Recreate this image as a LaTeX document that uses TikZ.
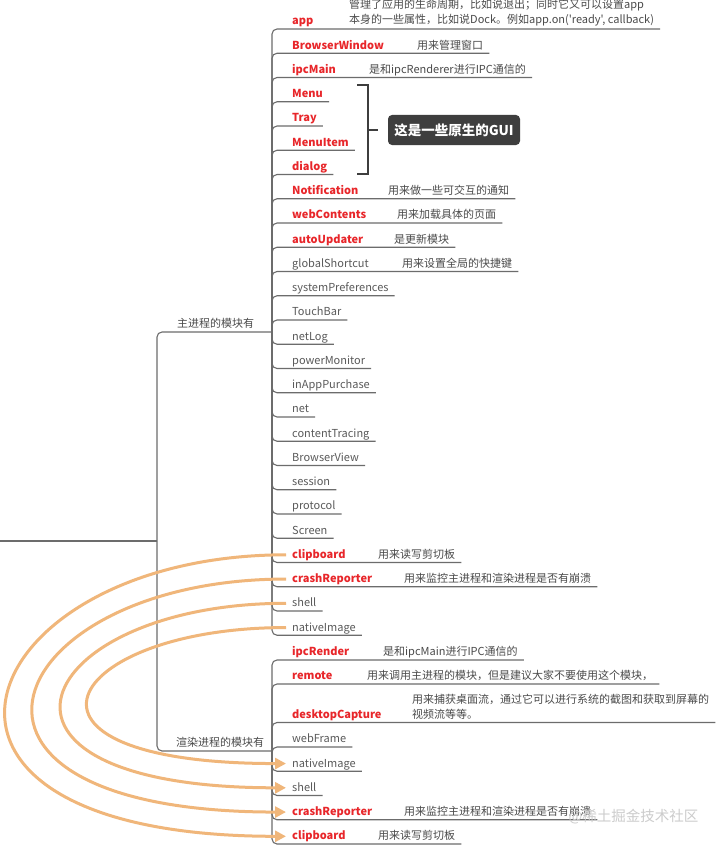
\documentclass[tikz,border=0pt]{standalone}
\usepackage{fontspec}
\setmainfont{Noto Sans CJK SC}[Ligatures=TeXOff]
\usetikzlibrary{arrows.meta}

\definecolor{topicred}{HTML}{E8262A}
\definecolor{topicgray}{HTML}{5A5A5A}
\definecolor{notetext}{HTML}{4A4A4A}
\definecolor{linegray}{HTML}{6C6C6C}
\definecolor{flowtan}{HTML}{F0B67A}
\definecolor{guidark}{HTML}{3E3E3E}

\tikzset{
  topic/.style={anchor=south west, inner xsep=6pt, inner ysep=3pt, text height=8pt, text depth=1pt, font=\fontsize{11}{13}\selectfont},
  redtopic/.style={topic, text=topicred, font=\fontsize{11}{13}\selectfont\bfseries},
  graytopic/.style={topic, text=topicgray},
  note/.style={topic, text=notetext},
  notetwo/.style={anchor=south west, inner xsep=6pt, inner ysep=3pt, align=left, text=notetext, font=\fontsize{11}{15}\selectfont},
  link/.style={draw=linegray, line width=1.1pt, rounded corners=5pt},
  flow/.style={draw=flowtan, line width=3pt, -{Triangle[length=11pt,width=11pt]}},
  bracket/.style={draw=guidark, line width=2pt},
  guibox/.style={fill=guidark, text=white, rounded corners=4pt, minimum width=132pt, minimum height=30pt, inner sep=0pt, font=\fontsize{13.5}{15}\selectfont\bfseries},
}

\begin{document}
\begin{tikzpicture}[x=1pt, y=-1pt]
    \path[fill=white, use as bounding box] (0,0) rectangle (722,848);

    \coordinate (root) at (0,541);
    \coordinate (roothub) at (157,541);
    \coordinate (mainhub) at (272,332);
    \coordinate (renderhub) at (272,751);

    \draw[link] (root) -- (roothub);
    \draw[link] (roothub) |- (mainhub);
    \draw[link] (roothub) |- (renderhub);
    \node[note] (mainproc) at (171,332) {主进程的模块有};
    \node[note] (renderproc) at (170,751) {渲染进程的模块有};

    % main process
    \node[redtopic] (app) at (286,29) {app};
    \node[notetwo] (appnote) at (343,29) {管理了应用的生命周期，比如说退出；同时它又可以设置app\\本身的一些属性，比如说Dock。例如app.on('ready', callback)};
    \draw[link] (mainhub) |- (appnote.south east);

    \node[redtopic] (browserwin) at (286,53.25) {BrowserWindow};
    \node[note] (browserwinnote) at (411,53.25) {用来管理窗口};
    \draw[link] (mainhub) |- (browserwinnote.south east);

    \node[redtopic] (ipcmain) at (286,77.5) {ipcMain};
    \node[note] (ipcmainnote) at (363,77.5) {是和ipcRenderer进行IPC通信的};
    \draw[link] (mainhub) |- (ipcmainnote.south east);

    \node[redtopic] (menu) at (286,101.75) {Menu};
    \draw[link] (mainhub) |- (menu.south east);
    \node[redtopic] (tray) at (286,126) {Tray};
    \draw[link] (mainhub) |- (tray.south east);
    \node[redtopic] (menuitem) at (286,150.25) {MenuItem};
    \draw[link] (mainhub) |- (menuitem.south east);
    \node[redtopic] (dialog) at (286,174.5) {dialog};
    \draw[link] (mainhub) |- (dialog.south east);

    \coordinate (brtop) at (357,85);
    \coordinate (brbot) at (357,174);
    \coordinate (brmid) at (368,130);
    \draw[bracket] (brtop) -| (brmid) |- (brbot);
    \node[guibox] (gui) at (454,130) {这是一些原生的GUI};
    \draw[bracket, shorten >=10pt] (brmid) -- (gui.west);

    \node[redtopic] (notification) at (286,198.75) {Notification};
    \node[note] (notificationnote) at (382,198.75) {用来做一些可交互的通知};
    \draw[link] (mainhub) |- (notificationnote.south east);

    \node[redtopic] (webcontents) at (286,223) {webContents};
    \node[note] (webcontentsnote) at (391,223) {用来加载具体的页面};
    \draw[link] (mainhub) |- (webcontentsnote.south east);

    \node[redtopic] (autoupdater) at (286,247.25) {autoUpdater};
    \node[note] (autoupdaternote) at (388,247.25) {是更新模块};
    \draw[link] (mainhub) |- (autoupdaternote.south east);

    \node[graytopic] (shortcut) at (286,271.5) {globalShortcut};
    \node[note] (shortcutnote) at (396,271.5) {用来设置全局的快捷键};
    \draw[link] (mainhub) |- (shortcutnote.south east);

    \node[graytopic] (syspref) at (286,295.75) {systemPreferences};
    \draw[link] (mainhub) |- (syspref.south east);
    \node[graytopic] (touchbar) at (286,320) {TouchBar};
    \draw[link] (mainhub) |- (touchbar.south east);
    \node[graytopic] (netlog) at (286,344.25) {netLog};
    \draw[link] (mainhub) |- (netlog.south east);
    \node[graytopic] (powermon) at (286,368.5) {powerMonitor};
    \draw[link] (mainhub) |- (powermon.south east);
    \node[graytopic] (inapp) at (286,392.75) {inAppPurchase};
    \draw[link] (mainhub) |- (inapp.south east);
    \node[graytopic] (net) at (286,417) {net};
    \draw[link] (mainhub) |- (net.south east);
    \node[graytopic] (tracing) at (286,441.25) {contentTracing};
    \draw[link] (mainhub) |- (tracing.south east);
    \node[graytopic] (browserview) at (286,465.5) {BrowserView};
    \draw[link] (mainhub) |- (browserview.south east);
    \node[graytopic] (session) at (286,489.75) {session};
    \draw[link] (mainhub) |- (session.south east);
    \node[graytopic] (protocol) at (286,514) {protocol};
    \draw[link] (mainhub) |- (protocol.south east);
    \node[graytopic] (screen) at (286,538.25) {Screen};
    \draw[link] (mainhub) |- (screen.south east);

    \node[redtopic] (mclip) at (286,562.5) {clipboard};
    \node[note] (mclipnote) at (372,562.5) {用来读写剪切板};
    \draw[link] (mainhub) |- (mclipnote.south east);
    \node[redtopic] (mcrash) at (286,586.75) {crashReporter};
    \node[note] (mcrashnote) at (398,586.75) {用来监控主进程和渲染进程是否有崩溃};
    \draw[link] (mainhub) |- (mcrashnote.south east);
    \node[graytopic] (mshell) at (286,611) {shell};
    \draw[link] (mainhub) |- (mshell.south east);
    \node[graytopic] (mnative) at (286,635.25) {nativeImage};
    \draw[link] (mainhub) |- (mnative.south east);

    % renderer process
    \node[redtopic] (ipcrender) at (286,660) {ipcRender};
    \node[note] (ipcrendernote) at (377,660) {是和ipcMain进行IPC通信的};
    \draw[link] (renderhub) |- (ipcrendernote.south east);

    \node[redtopic] (remote) at (286,684) {remote};
    \node[note] (remotenote) at (361,684) {用来调用主进程的模块，但是建议大家不要使用这个模块，};
    \draw[link] (renderhub) |- (remotenote.south east);

    \node[redtopic] (capture) at (286,722.5) {desktopCapture};
    \node[notetwo] (capturenote) at (406,722.5) {用来捕获桌面流，通过它可以进行系统的截图和获取到屏幕的\\视频流等等。};
    \draw[link] (renderhub) |- (capturenote.south east);

    \node[graytopic] (webframe) at (286,747) {webFrame};
    \draw[link] (renderhub) |- (webframe.south east);

    \node[graytopic] (rnative) at (286,771.25) {nativeImage};
    \draw[link] (renderhub) |- (rnative.south east);
    \node[graytopic] (rshell) at (286,795.5) {shell};
    \draw[link] (renderhub) |- (rshell.south east);
    \node[redtopic] (rcrash) at (286,819.75) {crashReporter};
    \node[note] (rcrashnote) at (398,819.75) {用来监控主进程和渲染进程是否有崩溃};
    \draw[link] (renderhub) |- (rcrashnote.south east);
    \node[redtopic] (rclip) at (286,844) {clipboard};
    \node[note] (rclipnote) at (372,844) {用来读写剪切板};
    \draw[link] (renderhub) |- (rclipnote.south east);

    % shared modules
    \draw[flow] (mclip.west) .. controls +(-315,0) and +(-427,0) .. (rclip.west);
    \draw[flow] (mcrash.west) .. controls +(-285,0) and +(-385,0) .. (rcrash.west);
    \draw[flow] (mshell.west) .. controls +(-253,0) and +(-342,0) .. (rshell.west);
    \draw[flow] (mnative.west) .. controls +(-223,0) and +(-302,0) .. (rnative.west);

    \node[anchor=west, text=gray!40, font=\fontsize{14.5}{16}\selectfont] (mark) at (565,817) {@稀土掘金技术社区};
\end{tikzpicture}
\end{document}
